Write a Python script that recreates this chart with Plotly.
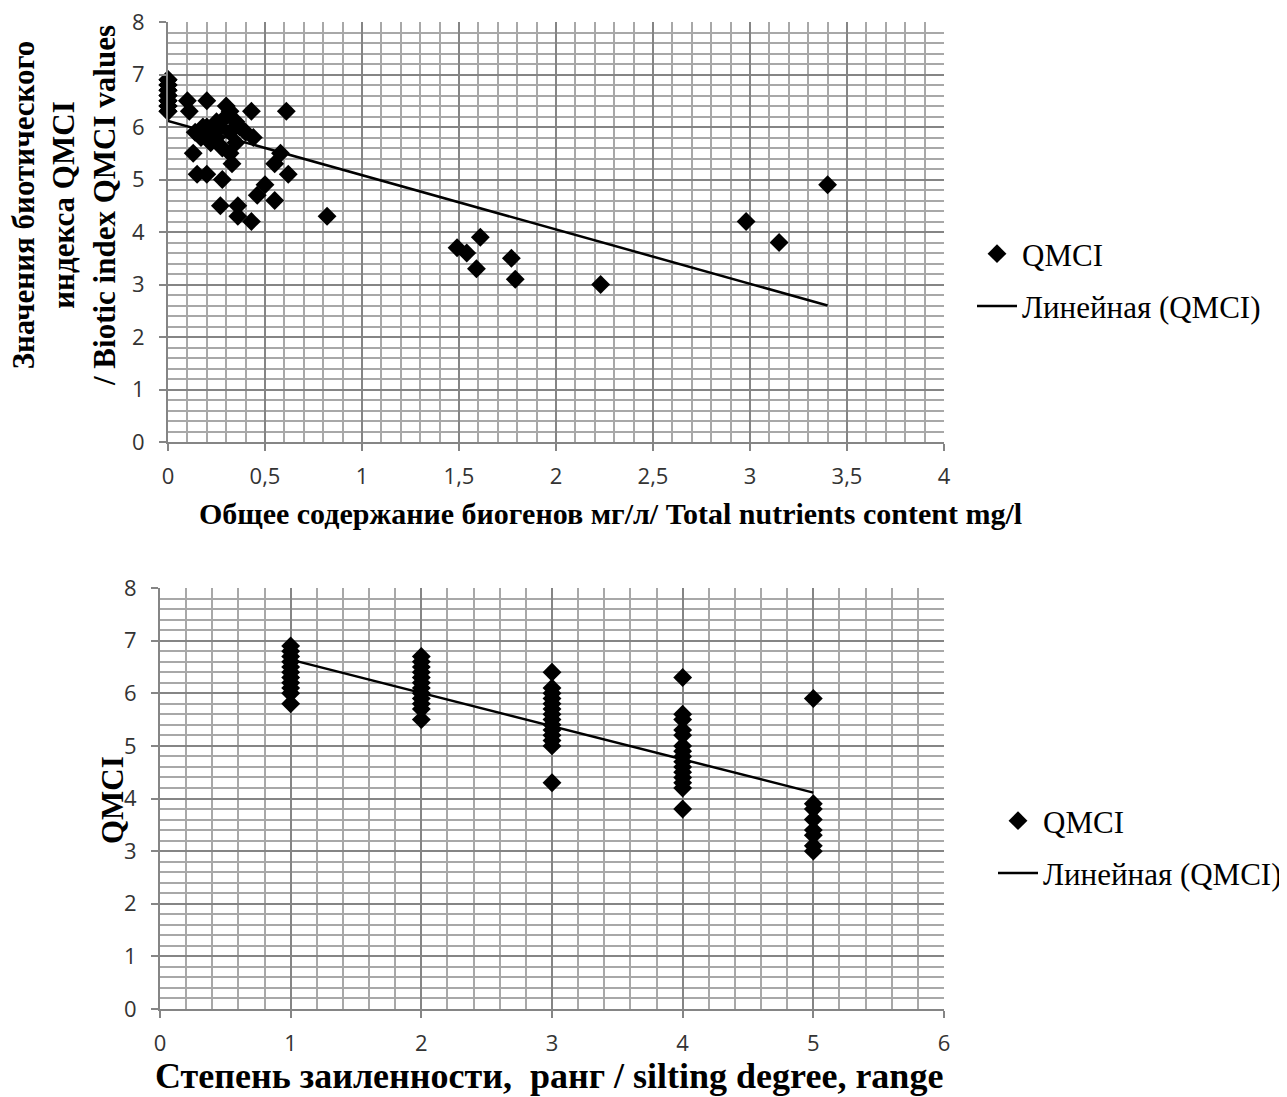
import numpy as np
import plotly.graph_objects as go

# ---- Data: top chart (total nutrients content vs QMCI) ----
nutrients_x = [0] * 21 + [
    0.10, 0.20, 0.11, 0.30, 0.32, 0.43, 0.61,
    0.14, 0.13, 0.20, 0.27, 0.32, 0.44, 0.22, 0.32, 0.33,
    0.58, 0.55, 0.62, 0.15, 0.20, 0.28, 0.50, 0.46, 0.55,
    0.27, 0.36, 0.36, 0.43,
    0.25, 0.30, 0.35, 0.18, 0.25, 0.28, 0.35, 0.40, 0.37, 0.22, 0.17,
    0.82, 1.49, 1.54, 1.59, 1.61, 1.77, 1.79, 2.23, 2.98, 3.15, 3.40]
nutrients_qmci = [6.3, 6.4, 6.5, 6.6, 6.7, 6.8, 6.9] * 3 + [
    6.5, 6.5, 6.3, 6.4, 6.3, 6.3, 6.3,
    5.9, 5.5, 6.0, 6.0, 5.9, 5.8, 5.7, 5.5, 5.3,
    5.5, 5.3, 5.1, 5.1, 5.1, 5.0, 4.9, 4.7, 4.6,
    4.5, 4.5, 4.3, 4.2,
    6.1, 6.2, 6.1, 6.0, 5.8, 5.6, 5.7, 5.9, 6.0, 5.9, 5.8,
    4.3, 3.7, 3.6, 3.3, 3.9, 3.5, 3.1, 3.0, 4.2, 3.8, 4.9]

# ---- Data: bottom chart (silting degree rank vs QMCI) ----
silting_x = ([1] * 11 + [2] * 12 + [3] * 14 + [4] * 15 + [5] * 8)
silting_qmci = ([5.8, 6.0, 6.1, 6.2, 6.3, 6.4, 6.5, 6.6, 6.7, 6.8, 6.9] +
                [5.5, 5.7, 5.8, 5.9, 6.0, 6.1, 6.2, 6.3, 6.4, 6.5, 6.6, 6.7] +
                [6.4, 6.1, 6.0, 5.9, 5.8, 5.7, 5.6, 5.5, 5.4, 5.3, 5.2, 5.1, 5.0, 4.3] +
                [6.3, 5.6, 5.5, 5.3, 5.2, 5.0, 4.9, 4.8, 4.7, 4.6, 4.5, 4.4, 4.3, 4.2, 3.8] +
                [5.9, 3.9, 3.8, 3.6, 3.4, 3.3, 3.1, 3.0])

series_name = "QMCI"
trend_name = "Линейная (QMCI)"
top_x_title = "Общее содержание биогенов мг/л/ Total nutrients content mg/l"
top_y_title = ["Значения биотического", "индекса QMCI", "/ Biotic index QMCI values"]
bottom_x_title = "Степень заиленности,  ранг / silting degree, range"
bottom_y_title = "QMCI"


def trend(xs, ys):
    k, b = np.polyfit(np.array(xs, float), np.array(ys, float), 1)
    xx = np.array([min(xs), max(xs)], float)
    return xx, k * xx + b


tx1, ty1 = trend(nutrients_x, nutrients_qmci)
tx2, ty2 = trend(silting_x, silting_qmci)

# page body has an 8px margin: lay the figure out in window pixels
OFF = 8
W, H = 1287 - OFF, 1097 - OFF


def px(x):
    return (x - OFF) / W


def py(y):
    return 1 - (y - OFF) / H


MAJOR = "#858585"
MINOR = "#a8a8a8"
SERIF = "Liberation Serif"
TICKFONT = dict(family="Open Sans", size=22, color="#333333")

fig = go.Figure()
marker = dict(symbol="diamond", size=14.5, color="black")
fig.add_trace(go.Scatter(x=nutrients_x, y=nutrients_qmci, mode="markers", marker=marker,
                         name=series_name, xaxis="x", yaxis="y", cliponaxis=False,
                         legend="legend", legendgroup="a"))
fig.add_trace(go.Scatter(x=tx1, y=ty1, mode="lines", line=dict(color="black", width=2.5),
                         name=trend_name, xaxis="x", yaxis="y",
                         legend="legend", legendgroup="b"))
fig.add_trace(go.Scatter(x=silting_x, y=silting_qmci, mode="markers", marker=marker,
                         name=series_name, xaxis="x2", yaxis="y2", cliponaxis=False,
                         legend="legend2", legendgroup="c"))
fig.add_trace(go.Scatter(x=tx2, y=ty2, mode="lines", line=dict(color="black", width=2.5),
                         name=trend_name, xaxis="x2", yaxis="y2",
                         legend="legend2", legendgroup="d"))


def axis(domain, anchor, rng, dtick, minor_dtick, standoff=0):
    return dict(domain=domain, anchor=anchor, range=rng, dtick=dtick, tick0=0,
                showgrid=True, gridcolor=MAJOR, gridwidth=2,
                minor=dict(dtick=minor_dtick, tick0=0, showgrid=True, gridcolor=MINOR,
                           gridwidth=1.5, ticks=""),
                zeroline=False, showline=True, linecolor=MAJOR, linewidth=2,
                ticks="outside", ticklen=7, tickcolor=MAJOR, tickwidth=2,
                ticklabelstandoff=standoff, ticklabeloverflow="allow", automargin=False,
                tickfont=TICKFONT, fixedrange=True)


LEGFONT = dict(family=SERIF, size=31, color="black")

fig.update_layout(
    width=W, height=H, margin=dict(l=0, r=0, t=0, b=0, autoexpand=False),
    paper_bgcolor="white", plot_bgcolor="white",
    separators=", ",
    xaxis=axis([px(168), px(944)], "y", [0, 4], 0.5, 0.1, 7),
    yaxis=axis([py(442), py(22)], "x", [0, 8], 1, 0.2, 10),
    xaxis2=axis([px(160), px(944)], "y2", [0, 6], 1, 0.2, 7),
    yaxis2=axis([py(1009), py(588)], "x2", [0, 8], 1, 0.2, 10),
    legend=dict(x=px(972), y=py(227), xanchor="left", yanchor="top", font=LEGFONT,
                itemwidth=40, tracegroupgap=9, bgcolor="rgba(0,0,0,0)"),
    legend2=dict(x=px(993), y=py(794), xanchor="left", yanchor="top", font=LEGFONT,
                 itemwidth=40, tracegroupgap=9, bgcolor="rgba(0,0,0,0)"),
    annotations=[
        dict(text="<b>%s</b>" % top_x_title, x=px(610), y=py(513), xref="paper", yref="paper",
             xanchor="center", yanchor="middle", showarrow=False,
             font=dict(family=SERIF, size=30, color="black")),
        dict(text="<br>".join("<b>%s</b>" % s for s in top_y_title), x=px(64), y=py(206),
             xref="paper", yref="paper", xanchor="center", yanchor="middle", showarrow=False,
             textangle=-90, font=dict(family=SERIF, size=31, color="black")),
        dict(text="<b>%s</b>" % bottom_x_title, x=px(549), y=py(1076), xref="paper", yref="paper",
             xanchor="center", yanchor="middle", showarrow=False,
             font=dict(family=SERIF, size=36, color="black")),
        dict(text="<b>%s</b>" % bottom_y_title, x=px(112), y=py(800), xref="paper", yref="paper",
             xanchor="center", yanchor="middle", showarrow=False, textangle=-90,
             font=dict(family=SERIF, size=31, color="black")),
    ],
)

fig.write_html("out.html")
